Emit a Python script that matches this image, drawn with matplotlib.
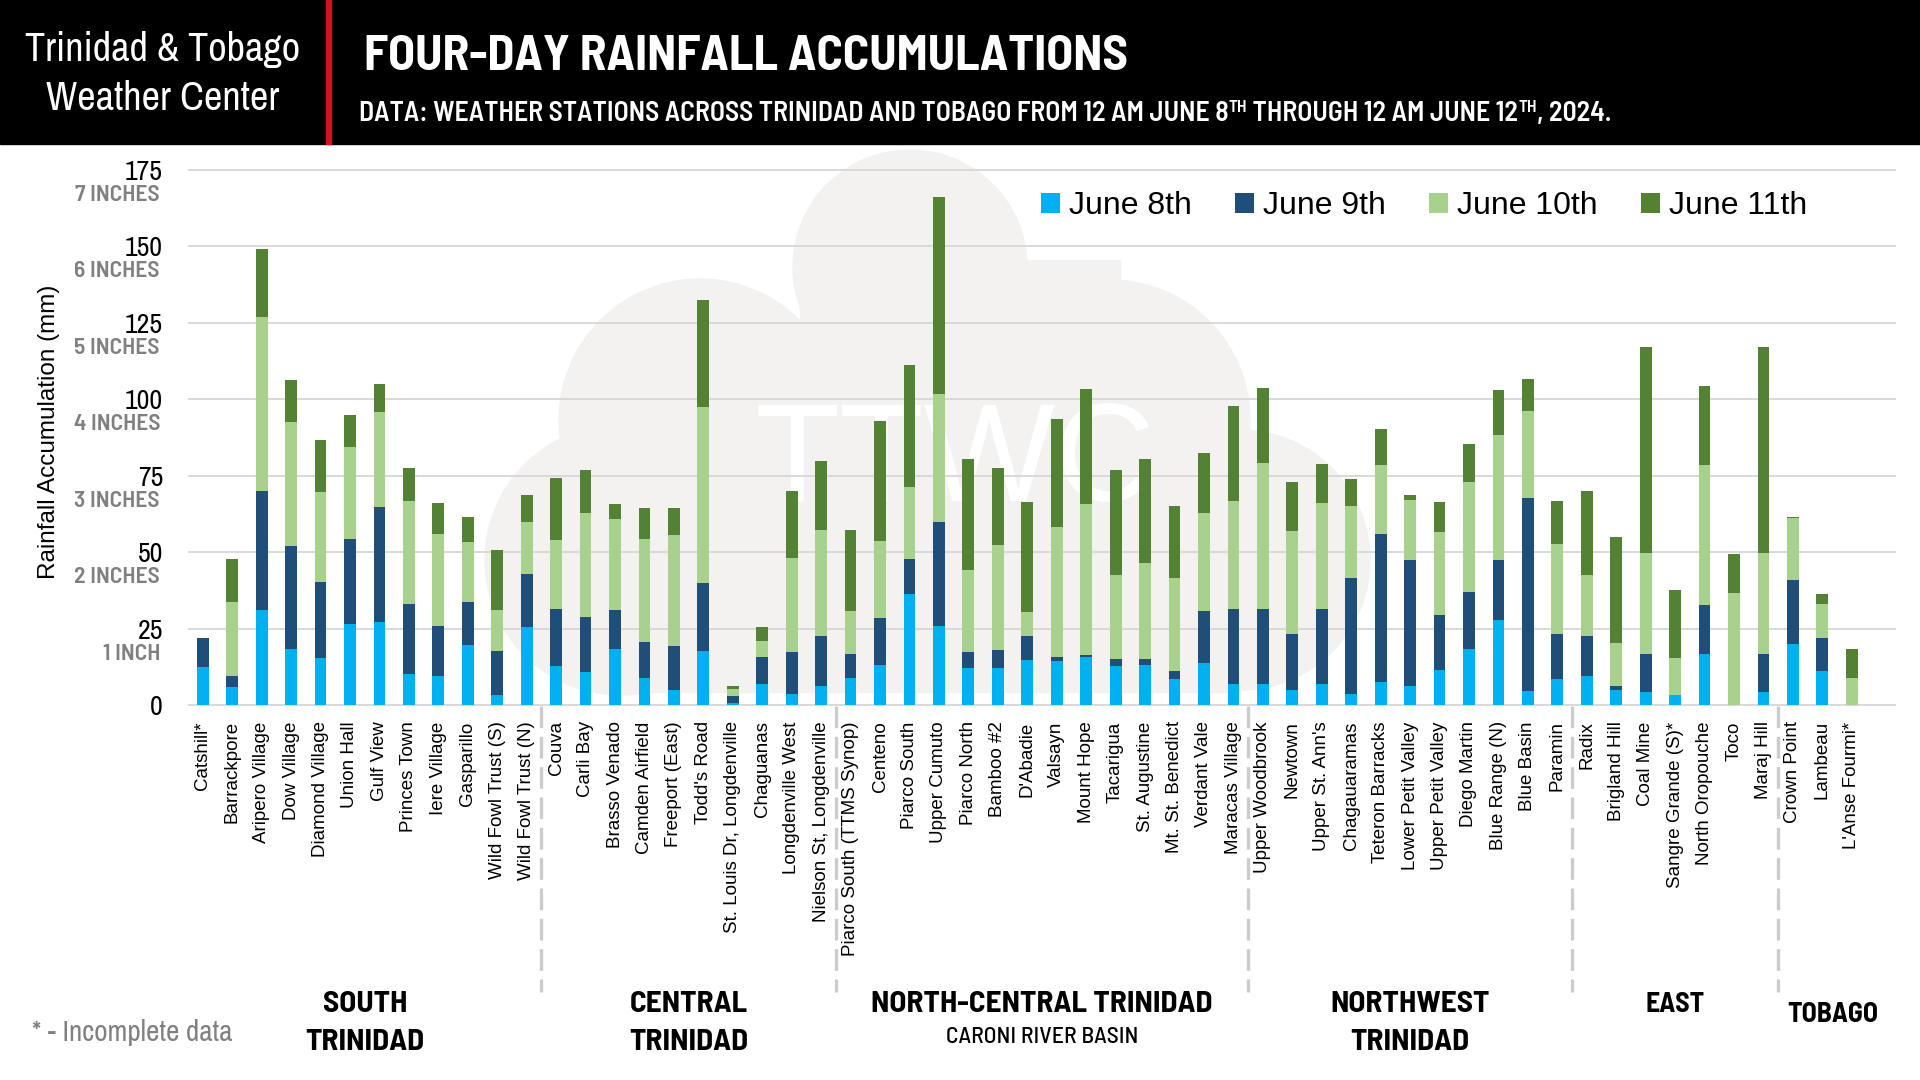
import matplotlib
matplotlib.use("Agg")
import matplotlib.pyplot as plt
import numpy as np
from matplotlib.patches import Rectangle, Circle
from matplotlib.lines import Line2D
from matplotlib.transforms import Affine2D, blended_transform_factory

# station names and daily totals (mm)
stations = ["Catshill*", "Barrackpore", "Aripero Village", "Dow Village", "Diamond Village",
            "Union Hall", "Gulf View", "Princes Town", "Iere Village", "Gasparillo",
            "Wild Fowl Trust (S)", "Wild Fowl Trust (N)",
            "Couva", "Carli Bay", "Brasso Venado", "Camden Airfield", "Freeport (East)",
            "Todd's Road", "St. Louis Dr, Longdenville", "Chaguanas", "Longdenville West",
            "Nielson St, Longdenville",
            "Piarco South (TTMS Synop)", "Centeno", "Piarco South", "Upper Cumuto", "Piarco North",
            "Bamboo #2", "D'Abadie", "Valsayn", "Mount Hope", "Tacarigua", "St. Augustine",
            "Mt. St. Benedict", "Verdant Vale", "Maracas Village",
            "Upper Woodbrook", "Newtown", "Upper St. Ann's", "Chagauaramas", "Teteron Barracks",
            "Lower Petit Valley", "Upper Petit Valley", "Diego Martin", "Blue Range (N)",
            "Blue Basin", "Paramin",
            "Radix", "Brigland Hill", "Coal Mine", "Sangre Grande (S)*", "North Oropouche",
            "Toco", "Maraj Hill",
            "Crown Point", "Lambeau", "L'Anse Fourmi*"]

june8 = [12.4, 5.8, 31.0, 18.2, 15.3, 26.4, 27.3, 10.3, 9.4, 19.5, 3.2, 25.4,
         12.7, 10.7, 18.2, 8.8, 4.9, 17.6, 0.6, 6.8, 3.6, 6.4,
         8.8, 13.0, 36.3, 26.0, 12.0, 12.0, 14.6, 14.3, 15.6, 12.7, 13.0, 8.4, 13.7, 6.8,
         6.8, 4.9, 6.8, 3.6, 7.5, 6.2, 11.4, 18.2, 27.7, 4.5, 8.4,
         9.4, 4.9, 4.2, 3.2, 16.6, 0.0, 4.2,
         19.9, 11.1, 0.0]
june9 = [9.4, 3.6, 38.9, 33.8, 25.1, 27.8, 37.4, 22.6, 16.4, 14.2, 14.4, 17.6,
         18.6, 18.0, 12.8, 11.8, 14.4, 22.2, 2.3, 8.8, 13.6, 16.1,
         7.8, 15.4, 11.4, 34.0, 5.2, 6.0, 7.9, 1.3, 0.7, 2.3, 2.0, 2.7, 17.0, 24.5,
         24.5, 18.3, 24.5, 37.9, 48.4, 41.1, 18.0, 18.7, 19.6, 63.2, 15.0,
         13.1, 1.3, 12.4, 0.0, 16.0, 0.0, 12.4,
         20.9, 10.8, 0.0]
june10 = [0.0, 24.3, 57.0, 40.5, 29.2, 30.1, 31.0, 33.7, 30.3, 19.6, 13.4, 17.0,
          22.6, 34.0, 29.8, 33.6, 36.2, 57.6, 2.2, 5.2, 30.8, 34.9,
          14.1, 25.1, 23.5, 41.7, 26.9, 34.2, 7.8, 42.5, 49.5, 27.4, 31.4, 30.4, 32.0, 35.3,
          47.8, 33.6, 34.7, 23.5, 22.5, 19.6, 27.1, 36.2, 40.9, 28.4, 29.2,
          19.9, 14.0, 33.0, 12.1, 45.8, 36.5, 33.0,
          20.3, 11.0, 8.8]
june11 = [0.0, 14.0, 22.2, 13.7, 17.0, 10.5, 9.2, 10.8, 9.9, 8.1, 19.7, 8.6,
          20.5, 14.1, 4.8, 10.1, 8.8, 34.9, 1.3, 4.6, 21.9, 22.3,
          26.7, 39.4, 40.0, 64.4, 36.3, 25.2, 36.0, 35.4, 37.5, 34.4, 34.0, 23.5, 19.6, 31.1,
          24.5, 16.1, 12.7, 8.8, 11.8, 1.7, 9.8, 12.2, 14.8, 10.4, 14.0,
          27.5, 34.6, 67.4, 22.3, 25.9, 12.8, 67.4,
          0.3, 3.4, 9.4]

series_names = ["June 8th", "June 9th", "June 10th", "June 11th"]
series_colors = ["#00b0f0", "#1f4e79", "#a9d18e", "#548235"]

# regions: (line 1, line 2, first index, last index)
regions = [("SOUTH", "TRINIDAD", 0, 11),
           ("CENTRAL", "TRINIDAD", 12, 21),
           ("NORTH-CENTRAL TRINIDAD", "CARONI RIVER BASIN", 22, 35),
           ("NORTHWEST", "TRINIDAD", 36, 46),
           ("EAST", "", 47, 53),
           ("TOBAGO", "", 54, 56)]

yticks = [0, 25, 50, 75, 100, 125, 150, 175]
inch_labels = ["", "1 INCH", "2 INCHES", "3 INCHES", "4 INCHES", "5 INCHES", "6 INCHES", "7 INCHES"]

SANS = ["Liberation Sans", "DejaVu Sans"]
NARROW = ["Archivo Narrow", "Liberation Sans Narrow", "Liberation Sans"]
BOLDC = ["Barlow Semi Condensed", "Barlow Condensed", "Archivo Narrow", "Liberation Sans"]

W, H = 1920, 1080
fig = plt.figure(figsize=(W / 100, H / 100), dpi=100)
fig.patch.set_facecolor("white")
PX = Affine2D().scale(1 / 100) + fig.dpi_scale_trans   # pixel coords, origin bottom-left

# header band
fig.patches.append(Rectangle((0, H - 144), W, 144, transform=PX, color="black", zorder=-2))
fig.patches.append(Rectangle((326, H - 144), 5, 144, transform=PX, color="#d0141e", zorder=-1))

# faint cloud watermark
cloud = "#f4f2f1"
for cx, cy, r in [(910, 267, 117), (700, 420, 141), (620, 560, 135), (1110, 420, 140), (1240, 560, 130)]:
    fig.patches.append(Circle((cx, H - cy), r, transform=PX, color=cloud, zorder=-3))
fig.patches.append(Rectangle((620, H - 692), 620, 300, transform=PX, color=cloud, zorder=-3))
fig.patches.append(Rectangle((800, H - 420), 320, 160, transform=PX, color=cloud, zorder=-3))
fig.text(955, H - 465, "TTWC", transform=PX, ha="center", va="center", fontsize=100,
         family=SANS, color="white", zorder=-2)

ax = fig.add_axes([188 / W, 1 - 706 / H, (1896 - 188) / W, (706 - 169) / H])
ax.set_facecolor("none")

x = np.arange(len(stations))
bottom = np.zeros(len(stations))
for vals, col, name in zip([june8, june9, june10, june11], series_colors, series_names):
    ax.bar(x, vals, 0.4, bottom=bottom, color=col, label=name, zorder=3)
    bottom += np.array(vals)

ax.set_xlim(-0.5, 57.5)
ax.set_ylim(-0.3, 175.3)
for s in ax.spines.values():
    s.set_visible(False)
ax.set_yticks(yticks)
ax.yaxis.grid(True, color="#d9d9d9", linewidth=1.4)
ax.set_axisbelow(True)
ax.tick_params(axis="y", length=0, pad=18, labelsize=20)
for lab in ax.get_yticklabels():
    lab.set_family(NARROW)

ax.set_xticks(x)
ax.set_xticklabels(stations, rotation=90, fontsize=13.5, family=SANS)
ax.tick_params(axis="x", length=0, pad=11)

for v, lab in zip(yticks, inch_labels):
    ax.annotate(lab, xy=(0, v), xycoords=("axes fraction", "data"), xytext=(-28, -25),
                textcoords="offset pixels", ha="right", va="center", fontsize=17,
                fontweight="semibold", color="#808080", family=BOLDC, annotation_clip=False)

fig.text(49, H - 432, "Rainfall Accumulation (mm)", transform=PX, rotation=90,
         ha="center", va="center", fontsize=17.5, family=SANS)

# group separators and region names
bt = blended_transform_factory(ax.transData, PX)
for a, b in zip(regions[:-1], regions[1:]):
    sep = (a[3] + b[2]) / 2
    ax.add_line(Line2D([sep, sep], [H - 706, H - 992], transform=bt, color="#cccccc",
                       linewidth=2.4, linestyle=(0, (6.5, 2.6)), clip_on=False))
for l1, l2, i0, i1 in regions:
    cx = (i0 + i1) / 2
    if l1 == "NORTH-CENTRAL TRINIDAD":
        ax.text(cx, H - 1004, l1, transform=bt, ha="center", va="center", fontsize=22.5,
                fontweight="bold", family=BOLDC)
        ax.text(cx, H - 1037, l2, transform=bt, ha="center", va="center", fontsize=17,
                fontweight="medium", family=BOLDC)
    elif l2:
        ax.text(cx, H - 1004, l1, transform=bt, ha="center", va="center", fontsize=22.5,
                fontweight="bold", family=BOLDC)
        ax.text(cx, H - 1043, l2, transform=bt, ha="center", va="center", fontsize=22.5,
                fontweight="bold", family=BOLDC)
    else:
        yy = 1004 if l1 == "EAST" else 1014
        ax.text(cx + (0.35 if l1 == "TOBAGO" else 0), H - yy, l1, transform=bt, ha="center",
                va="center", fontsize=20, fontweight="bold", family=BOLDC)

fig.text(132, H - 1032, "* - Incomplete data", transform=PX, ha="center", va="center",
         fontsize=21, color="#808080", family=NARROW)

leg = ax.legend(ncol=4, loc="center left", bbox_to_anchor=(1041, H - 206), bbox_transform=PX,
                frameon=False, prop={"family": SANS, "size": 23}, handlelength=0.6,
                handleheight=0.6, handletextpad=0.28, columnspacing=1.35, borderpad=0,
                borderaxespad=0)

# header texts
fig.text(163, H - 50, "Trinidad & Tobago", transform=PX, ha="center", va="center",
         fontsize=29, color="white", family=NARROW)
fig.text(163, H - 98, "Weather Center", transform=PX, ha="center", va="center",
         fontsize=29, color="white", family=NARROW)
fig.text(364, H - 70, "FOUR-DAY RAINFALL ACCUMULATIONS", transform=PX, ha="left",
         va="baseline", fontsize=35.5, fontweight="bold", color="white", family=BOLDC)

renderer = fig.canvas.get_renderer()
pieces = [("DATA: WEATHER STATIONS ACROSS TRINIDAD AND TOBAGO FROM 12 AM JUNE 8", False),
          ("TH", True), (" THROUGH 12 AM JUNE 12", False), ("TH", True), (", 2024.", False)]
xpos = 359
for txt, sup in pieces:
    t = fig.text(xpos, H - (121 - (9 if sup else 0)), txt, transform=PX, ha="left",
                 va="baseline", fontsize=12.5 if sup else 20, fontweight="semibold",
                 color="white", family=BOLDC)
    xpos = t.get_window_extent(renderer).x1

fig.savefig("out.png", dpi=100, facecolor="white")
